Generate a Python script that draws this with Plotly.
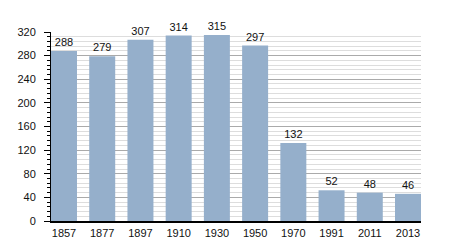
import plotly.graph_objects as go

years = ["1857", "1877", "1897", "1910", "1930", "1950", "1970", "1991", "2011", "2013"]
population = [288, 279, 307, 314, 315, 297, 132, 52, 48, 46]
y_ticks = [0, 40, 80, 120, 160, 200, 240, 280, 320]

bar_color = "#95AFCB"

fig = go.Figure(
    go.Bar(
        x=years,
        y=population,
        marker=dict(color=bar_color, line=dict(width=0)),
        text=[str(v) for v in population],
        textposition="outside",
        textfont=dict(family="Liberation Sans, Arial, sans-serif", size=11, color="#111"),
        cliponaxis=False,
    )
)

fig.update_layout(
    width=450,
    height=250,
    margin=dict(l=51, r=29, t=32, b=29),
    paper_bgcolor="white",
    plot_bgcolor="white",
    bargap=0.32,
    showlegend=False,
    font=dict(family="Liberation Sans, Arial, sans-serif", size=11, color="#111"),
    xaxis=dict(
        type="category",
        range=[-0.34, 9.34],
        showline=True,
        linecolor="black",
        linewidth=1.5,
        ticks="",
        showgrid=False,
        tickfont=dict(size=11),
        ticklabelstandoff=1,
    ),
    yaxis=dict(
        range=[0, 320],
        tickvals=y_ticks,
        showline=True,
        linecolor="black",
        linewidth=1,
        ticks="outside",
        ticklen=6,
        tickcolor="black",
        gridcolor="#aaaaaa",
        gridwidth=1,
        zeroline=False,
        tickfont=dict(size=11),
        ticklabelstandoff=6,
        minor=dict(
            dtick=8,
            showgrid=True,
            gridcolor="#dddddd",
            gridwidth=1,
            ticks="outside",
            ticklen=3,
            tickcolor="black",
        ),
    ),
)

fig.write_html("out.html")
